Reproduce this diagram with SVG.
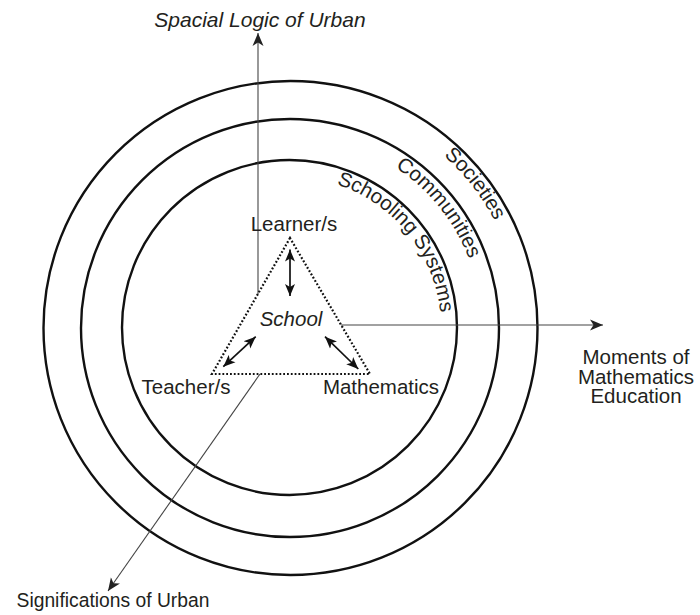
<svg xmlns="http://www.w3.org/2000/svg" width="700" height="615" viewBox="0 0 700 615">
<style>
  .lbl{font-family:"Liberation Sans",Arial,sans-serif;font-size:20.5px;fill:#231f20}
  .it{font-style:italic}
  .ring{fill:none;stroke:#111;stroke-width:2.4}
  .axis{fill:none;stroke:#444;stroke-width:1.1}
  .dbl{fill:none;stroke:#111;stroke-width:1.7}
  .tri{fill:none;stroke:#111;stroke-width:2.2;stroke-dasharray:1.8 2}
</style>
<defs>
  <marker id="ah" markerUnits="userSpaceOnUse" markerWidth="14" markerHeight="12" refX="13" refY="5.5" orient="auto-start-reverse" viewBox="0 0 14 11">
    <path d="M0,0 L13,5.5 L0,11 L3.5,5.5 z" fill="#222"/>
  </marker>
  <marker id="ah2" markerUnits="userSpaceOnUse" markerWidth="13" markerHeight="11" refX="12" refY="5" orient="auto-start-reverse" viewBox="0 0 13 10">
    <path d="M0,0 L12,5 L0,10 L3,5 z" fill="#111"/>
  </marker>
  <path id="pSchool" d="M290,177 A151,151 0 1 1 290,479 A151,151 0 1 1 290,177"/>
  <path id="pComm" d="M290,136 A192,192 0 1 1 290,520 A192,192 0 1 1 290,136"/>
  <path id="pSoc" d="M290,97 A231,231 0 1 1 290,559 A231,231 0 1 1 290,97"/>
</defs>
<rect width="700" height="615" fill="#fff"/>

<g id="societies">
  <circle class="ring" cx="290.5" cy="328" r="247"/>
  <text class="lbl"><textPath href="#pSoc" startOffset="209.7" text-anchor="middle">Societies</textPath></text>
</g>
<g id="communities">
  <circle class="ring" cx="290" cy="328" r="209"/>
  <text class="lbl"><textPath href="#pComm" startOffset="171" text-anchor="middle">Communities</textPath></text>
</g>
<g id="schooling-systems">
  <circle class="ring" cx="289.5" cy="327.5" r="167.5"/>
  <text class="lbl"><textPath href="#pSchool" startOffset="134.4" text-anchor="middle">Schooling Systems</textPath></text>
</g>

<g id="connectors">
  <line class="axis" x1="258" y1="294" x2="258" y2="33" marker-end="url(#ah)"/>
  <line class="axis" x1="341" y1="325" x2="603" y2="325" marker-end="url(#ah)"/>
  <line class="axis" x1="260" y1="374" x2="108" y2="591" marker-end="url(#ah)"/>
  <line class="dbl" x1="290" y1="249.5" x2="290" y2="296" marker-start="url(#ah2)" marker-end="url(#ah2)"/>
  <line class="dbl" x1="255.7" y1="336.7" x2="223.3" y2="366.7" marker-start="url(#ah2)" marker-end="url(#ah2)"/>
  <line class="dbl" x1="325" y1="336.7" x2="358.3" y2="369" marker-start="url(#ah2)" marker-end="url(#ah2)"/>
</g>

<g id="school">
  <polygon class="tri" points="290,238 212,374 370,374"/>
  <text class="lbl it" x="291" y="326" text-anchor="middle">School</text>
</g>
<g id="learner">
  <text class="lbl" x="294" y="231" text-anchor="middle">Learner/s</text>
</g>
<g id="teacher">
  <text class="lbl" x="186" y="394" text-anchor="middle">Teacher/s</text>
</g>
<g id="mathematics">
  <text class="lbl" x="381" y="394" text-anchor="middle">Mathematics</text>
</g>
<g id="spacial-logic">
  <text class="lbl it" x="260" y="27" text-anchor="middle" style="font-size:21px">Spacial Logic of Urban</text>
</g>
<g id="moments">
  <text class="lbl" x="636" y="364" text-anchor="middle">Moments of</text>
  <text class="lbl" x="636" y="384" text-anchor="middle">Mathematics</text>
  <text class="lbl" x="636" y="403" text-anchor="middle">Education</text>
</g>
<g id="significations">
  <text class="lbl" x="113" y="607" text-anchor="middle" style="font-size:19.3px">Significations of Urban</text>
</g>
</svg>
